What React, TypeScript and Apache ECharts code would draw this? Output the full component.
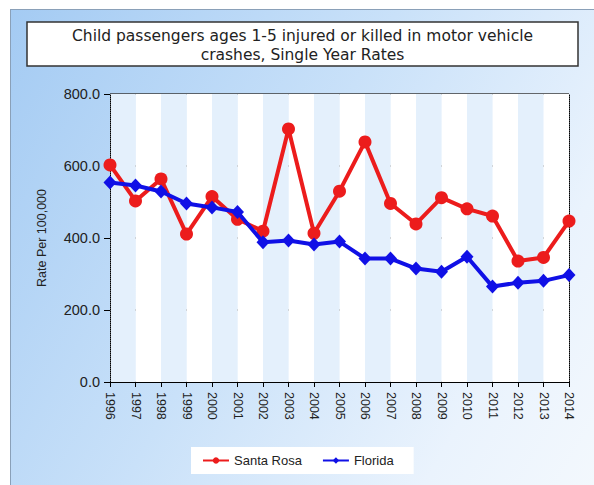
import React, { useEffect, useRef } from "react";
import * as echarts from "echarts";

const years = ["1996","1997","1998","1999","2000","2001","2002","2003","2004","2005","2006","2007","2008","2009","2010","2011","2012","2013","2014"];
const santaRosa = [603, 503, 564, 411, 515, 452, 419, 703, 413, 530, 667, 496, 439, 512, 481, 461, 336, 346, 447];
const florida = [554, 546, 529, 496, 485, 472, 388, 393, 382, 390, 343, 343, 315, 306, 348, 265, 276, 281, 297];
const titleLines = ["Child passengers ages 1-5 injured or killed in motor vehicle", "crashes, Single Year Rates"];
const yAxisName = "Rate Per 100,000";

export default function App() {
  const ref = useRef<HTMLDivElement>(null);
  useEffect(() => {
    document.body.style.margin = "0";
    const chart = echarts.init(ref.current!, null, { renderer: "svg" });
    const axisFont = "Liberation Sans, Arial, sans-serif";
    chart.setOption({
      animation: false,
      backgroundColor: "transparent",
      grid: { left: 110, right: 25, top: 94, bottom: 103 },
      graphic: [
        {
          type: "group",
          z: 100,
          children: [
            {
              type: "rect",
              shape: { x: 27, y: 22, width: 551, height: 44 },
              style: { fill: "#ffffff", stroke: "#333333", lineWidth: 1.5 },
            },
            {
              type: "text",
              style: {
                x: 302.5,
                y: 45,
                text: titleLines.join("\n"),
                fill: "#222222",
                font: "15.5px 'DejaVu Sans', Verdana, sans-serif",
                align: "center",
                verticalAlign: "middle",
                lineHeight: 19,
              },
            },
          ],
        },
      ],
      legend: {
        left: 191,
        top: 447,
        backgroundColor: "#ffffff",
        padding: [7, 20, 7, 11],
        itemGap: 20,
        itemWidth: 26,
        itemHeight: 8,
        textStyle: { fontSize: 13, fontFamily: axisFont, color: "#222" },
        data: ["Santa Rosa", "Florida"],
      },
      xAxis: {
        type: "category",
        data: years,
        boundaryGap: false,
        axisLine: { lineStyle: { color: "#000", width: 1 } },
        axisTick: { show: true, length: 5, lineStyle: { color: "#000" }, alignWithLabel: true },
        axisLabel: { rotate: -90, fontSize: 12.5, fontFamily: axisFont, color: "#222", margin: 10, interval: 0 },
        splitLine: { show: false },
        splitArea: { show: true, areaStyle: { color: ["#e4f0fc", "#ffffff"] } },
      },
      yAxis: [
        {
          type: "value",
          min: 0,
          max: 800,
          interval: 200,
          name: yAxisName,
          nameLocation: "middle",
          nameGap: 62,
          nameTextStyle: { fontSize: 12.5, fontFamily: axisFont, color: "#222" },
          axisLine: { show: true, lineStyle: { color: "#000", type: "dotted", width: 1 } },
          axisTick: { show: true, length: 6, lineStyle: { color: "#000", type: "solid" } },
          axisLabel: {
            fontSize: 14.5,
            fontFamily: axisFont,
            color: "#222",
            margin: 10,
            formatter: (v: number) => v.toFixed(1),
          },
          splitLine: { show: true, lineStyle: { color: "#3a3a3a", width: 1.6 } },
        },
        {
          type: "value",
          min: 0,
          max: 800,
          interval: 200,
          position: "right",
          axisLine: { show: true, lineStyle: { color: "#000", type: "dotted", width: 1 } },
          axisTick: { show: false },
          axisLabel: { show: false },
          splitLine: { show: false },
        },
      ],
      series: [
        {
          name: "Santa Rosa",
          type: "line",
          data: santaRosa,
          symbol: "circle",
          symbolSize: 13,
          itemStyle: { color: "#ec1c1c" },
          lineStyle: { color: "#ec1c1c", width: 4 },
          z: 3,
        },
        {
          name: "Florida",
          type: "line",
          data: florida,
          symbol: "diamond",
          symbolSize: [13, 14],
          itemStyle: { color: "#1010e6" },
          lineStyle: { color: "#1010e6", width: 4 },
          z: 4,
        },
      ],
    });
    return () => chart.dispose();
  }, []);
  return (
    <div style={{ position: "relative", width: 594, height: 485, background: "#ffffff", overflow: "hidden" }}>
      <div
        style={{
          position: "absolute",
          left: 10,
          top: 9,
          width: 584,
          height: 476,
          borderLeft: "1px solid #8aa0b8",
          borderTop: "1px solid #8aa0b8",
          background: "linear-gradient(120deg, #a4cbf3 0%, #c9e1f9 45%, #eaf3fd 80%, #f3f8fd 100%)",
        }}
      />
      <div ref={ref} style={{ position: "absolute", left: 0, top: 0, width: 594, height: 485 }} />
    </div>
  );
}
